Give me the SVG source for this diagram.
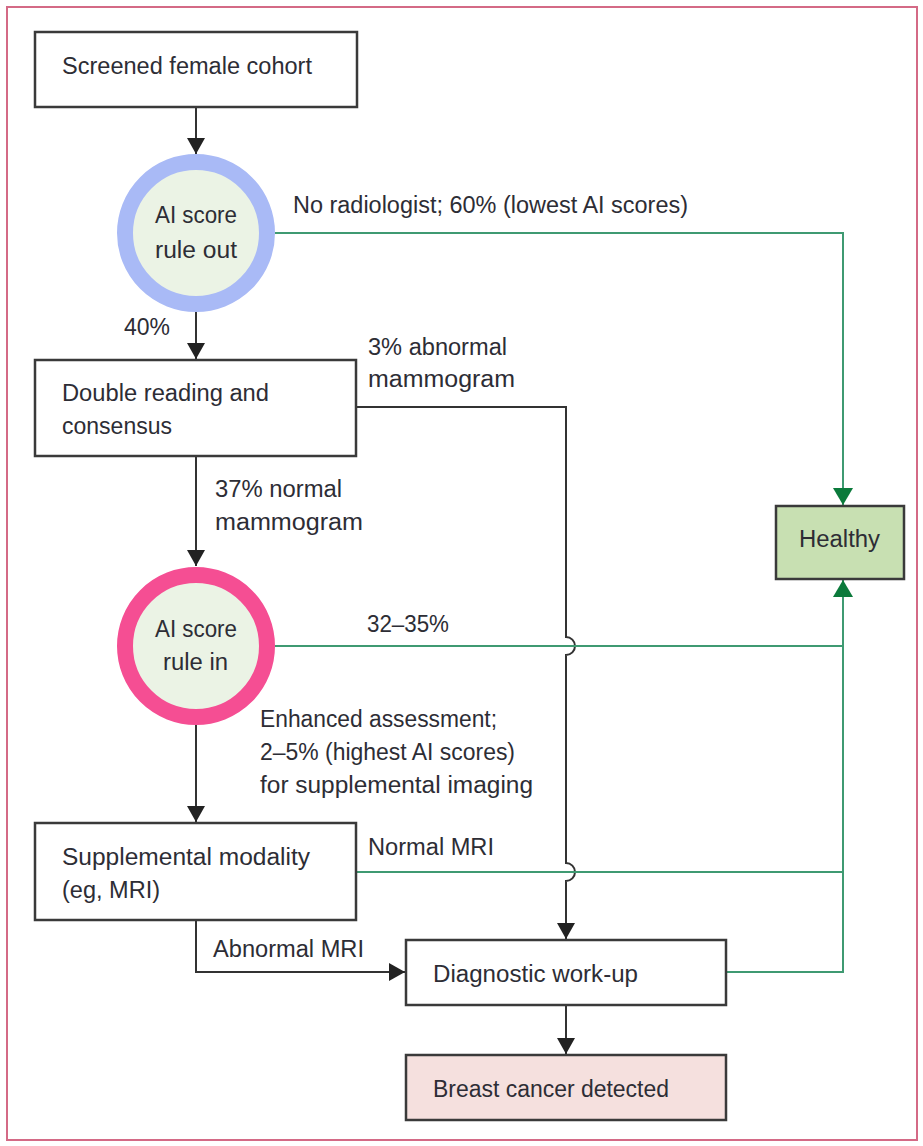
<svg xmlns="http://www.w3.org/2000/svg" width="923" height="1146" viewBox="0 0 923 1146">
<defs>
<style>
text{font-family:"Liberation Sans",Arial,sans-serif;font-size:23px;fill:#2d2d35}
.box{fill:#fff;stroke:#3a3a3a;stroke-width:2.5}
.blk{fill:none;stroke:#333;stroke-width:2}
.grn{fill:none;stroke:#3f9a72;stroke-width:2}
</style>
<marker id="ab" markerUnits="userSpaceOnUse" markerWidth="17" markerHeight="18" refX="16" refY="9" orient="auto" viewBox="0 0 17 18"><path d="M0,0 L16,9 L0,18 z" fill="#222"/></marker>
<marker id="ag" markerUnits="userSpaceOnUse" markerWidth="18" markerHeight="20" refX="17" refY="10" orient="auto" viewBox="0 0 18 20"><path d="M0,0 L17,10 L0,20 z" fill="#0b7a3b"/></marker>
</defs>
<rect x="7" y="7" width="910" height="1133" fill="none" stroke="#d46a86" stroke-width="2"/>

<g id="connectors">
<path class="blk" d="M196,107 V154" marker-end="url(#ab)"/>
<path class="blk" d="M196,312 V359" marker-end="url(#ab)"/>
<path class="blk" d="M196,456 V566" marker-end="url(#ab)"/>
<path class="blk" d="M196,725 V822" marker-end="url(#ab)"/>
<path class="blk" d="M356,407 H566 V637 A9,9 0 0 1 566,655 V863 A9,9 0 0 1 566,881 V939" marker-end="url(#ab)"/>
<path class="blk" d="M196,920 V972 H405" marker-end="url(#ab)"/>
<path class="blk" d="M566,1005 V1054" marker-end="url(#ab)"/>
<path class="grn" d="M275,233 H843 V505" marker-end="url(#ag)"/>
<path class="grn" d="M275,646 H843"/>
<path class="grn" d="M356,872 H843"/>
<path class="grn" d="M726,972 H843 V580" marker-end="url(#ag)"/>
<text x="293" y="213" textLength="395" lengthAdjust="spacingAndGlyphs">No radiologist; 60% (lowest AI scores)</text>
<text x="124" y="335" textLength="46" lengthAdjust="spacingAndGlyphs">40%</text>
<text x="368" y="355" textLength="139" lengthAdjust="spacingAndGlyphs">3% abnormal</text>
<text x="368" y="387" textLength="147" lengthAdjust="spacingAndGlyphs">mammogram</text>
<text x="215" y="497" textLength="127" lengthAdjust="spacingAndGlyphs">37% normal</text>
<text x="215" y="530" textLength="148" lengthAdjust="spacingAndGlyphs">mammogram</text>
<text x="367" y="632" textLength="82" lengthAdjust="spacingAndGlyphs">32–35%</text>
<text x="260" y="727" textLength="237" lengthAdjust="spacingAndGlyphs">Enhanced assessment;</text>
<text x="260" y="760" textLength="255" lengthAdjust="spacingAndGlyphs">2–5% (highest AI scores)</text>
<text x="260" y="793" textLength="273" lengthAdjust="spacingAndGlyphs">for supplemental imaging</text>
<text x="368" y="855" textLength="126" lengthAdjust="spacingAndGlyphs">Normal MRI</text>
<text x="213" y="957" textLength="151" lengthAdjust="spacingAndGlyphs">Abnormal MRI</text>
</g>

<g id="screened">
<rect class="box" x="35" y="32" width="322" height="75"/>
<text x="62" y="74" textLength="250" lengthAdjust="spacingAndGlyphs">Screened female cohort</text>
</g>

<g id="ruleout">
<circle cx="196" cy="233" r="71" fill="#ebf3e5" stroke="#a9baf6" stroke-width="16"/>
<text x="155" y="223" textLength="82" lengthAdjust="spacingAndGlyphs">AI score</text>
<text x="155" y="258" textLength="82" lengthAdjust="spacingAndGlyphs">rule out</text>
</g>

<g id="double">
<rect class="box" x="35" y="360" width="321" height="96"/>
<text x="62" y="401" textLength="207" lengthAdjust="spacingAndGlyphs">Double reading and</text>
<text x="62" y="434" textLength="110" lengthAdjust="spacingAndGlyphs">consensus</text>
</g>

<g id="rulein">
<circle cx="196" cy="646" r="71" fill="#ebf3e5" stroke="#f54e93" stroke-width="16"/>
<text x="155" y="637" textLength="82" lengthAdjust="spacingAndGlyphs">AI score</text>
<text x="163" y="670" textLength="65" lengthAdjust="spacingAndGlyphs">rule in</text>
</g>

<g id="supplemental">
<rect class="box" x="35" y="823" width="321" height="97"/>
<text x="62" y="865" textLength="248" lengthAdjust="spacingAndGlyphs">Supplemental modality</text>
<text x="62" y="898" textLength="98" lengthAdjust="spacingAndGlyphs">(eg, MRI)</text>
</g>

<g id="healthy">
<rect x="776" y="506" width="128" height="73" fill="#c8e0b2" stroke="#3a3a3a" stroke-width="2.5"/>
<text x="799" y="547" textLength="81" lengthAdjust="spacingAndGlyphs">Healthy</text>
</g>

<g id="diagnostic">
<rect class="box" x="406" y="940" width="320" height="65"/>
<text x="433" y="982" textLength="205" lengthAdjust="spacingAndGlyphs">Diagnostic work-up</text>
</g>

<g id="cancer">
<rect x="406" y="1055" width="320" height="65" fill="#f5e0de" stroke="#3a3a3a" stroke-width="2.5"/>
<text x="433" y="1097" textLength="236" lengthAdjust="spacingAndGlyphs">Breast cancer detected</text>
</g>
</svg>
